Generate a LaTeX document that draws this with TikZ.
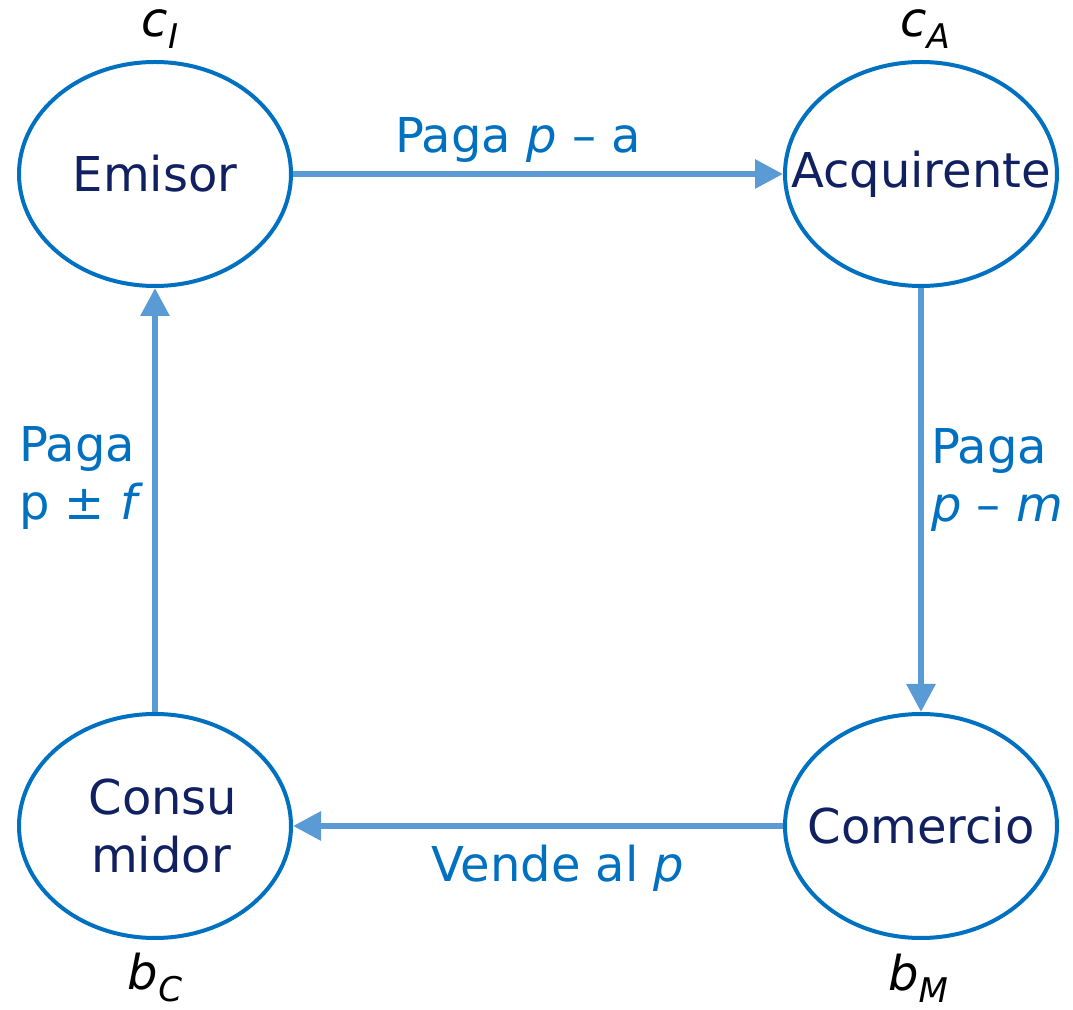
\documentclass[tikz,border=0pt]{standalone}
\usepackage{fontspec}
\setmainfont{DejaVu Sans}
\usetikzlibrary{shapes.geometric,arrows.meta}
\begin{document}
\begin{tikzpicture}[x=0.5pt, y=-0.5pt]
    \definecolor{ring-blue}{RGB}{0,112,192}
    \definecolor{flow-blue}{RGB}{91,155,213}
    \definecolor{name-navy}{RGB}{16,32,96}
    \def\lowsub#1{\raisebox{-6pt}{\fontsize{17}{17}\selectfont #1}}
    \tikzset{
      party/.style={ellipse, draw=ring-blue, line width=2pt, minimum width=136pt, minimum height=112pt,
        inner sep=-40pt, text=name-navy, font=\fontsize{24}{29}\selectfont, align=center},
      flow/.style={draw=flow-blue, line width=3pt, -{Triangle[length=14pt,width=14pt]}},
      flowlabel/.style={text=ring-blue, font=\fontsize{24}{29}\selectfont, align=left},
      cost/.style={anchor=base, inner sep=0pt, font=\fontsize{24}{28}\selectfont\itshape}
    }
    \useasboundingbox (0,0) rectangle (1073,1010);
    \node[party] (emisor) at (155,174) {Emisor};
    \node[party] (acq) at (921,174) {Acquirente};
    \node[party] (cons) at (155,826) {\hspace*{8pt}Consu\\\hspace*{6pt}midor};
    \node[party] (com) at (921,826) {Comercio};
    \draw[flow] (emisor) -- (acq);
    \draw[flow] (acq) -- (com);
    \draw[flow] (com) -- (cons);
    \draw[flow] (cons) -- (emisor);
    \node[flowlabel] (payIA) at (518,140) {Paga \textit{p} – a};
    \node[flowlabel, anchor=west] (payAC) at (924,480) {Paga\\\textit{p} – \textit{m}};
    \node[flowlabel] (sellMC) at (558,868) {Vende al \textit{p}};
    \node[flowlabel, anchor=west] (payCE) at (12,478) {Paga\\p ± \textit{f}};
    \node[cost] (cI) at (160,37) {c\lowsub{I}};
    \node[cost] (cA) at (925,37) {c\lowsub{A}};
    \node[cost] (bC) at (155,990) {b\lowsub{C}};
    \node[cost] (bM) at (918,991) {b\lowsub{M}};
  \end{tikzpicture}
\end{document}
